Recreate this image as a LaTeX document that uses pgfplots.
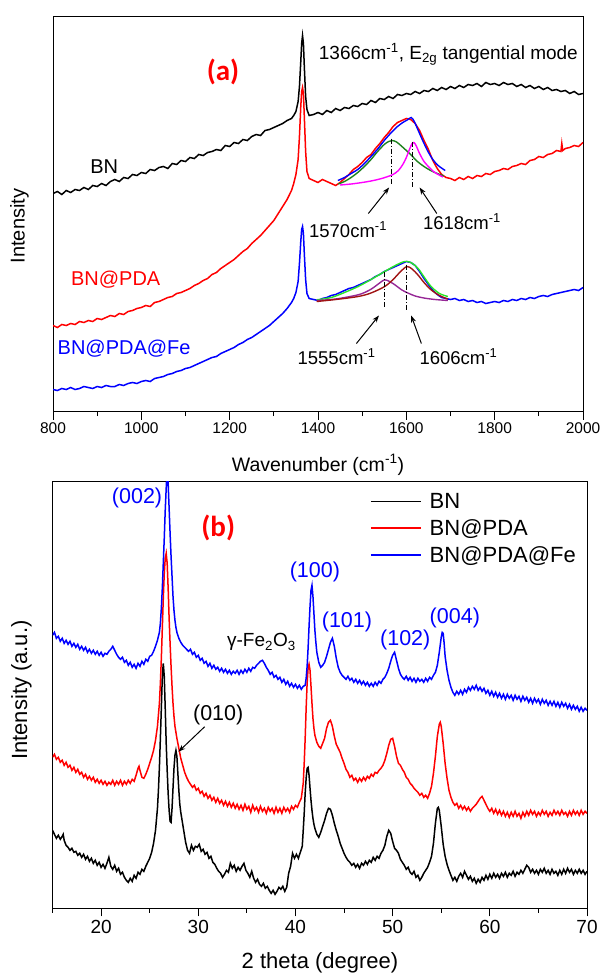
\documentclass[border=0pt]{standalone}
\usepackage{pgfplots}
\pgfplotsset{compat=1.18}
\usepackage{fontspec}
\setmainfont{Liberation Sans}
\newfontfamily\calib{Carlito}
\usetikzlibrary{arrows.meta}
\definecolor{fgreen}{RGB}{30,130,30}
\definecolor{fmag}{RGB}{255,0,255}
\definecolor{flime}{RGB}{40,230,40}
\definecolor{fpurple}{RGB}{150,40,150}
\definecolor{fdred}{RGB}{160,20,20}
\definecolor{pblue}{RGB}{0,0,255}
\definecolor{pred}{RGB}{255,0,0}
\tikzset{dd/.style={black, line width=1pt, dash pattern=on 5pt off 2pt on 1.2pt off 2pt}}
\begin{document}
\begin{tikzpicture}[x=1pt,y=1pt]
\path[use as bounding box] (0,0) rectangle (602,-974);
% ---------------- panel (a) ----------------
\begin{axis}[at={(53pt,-411.5pt)}, anchor=south west, scale only axis,
  width=530pt, height=395pt, xmin=800, xmax=2000, ymin=0, ymax=395,
  xtick={800,1000,...,2000}, minor xtick={900,1100,...,1900},
  ytick=\empty, xtick pos=bottom, tick align=outside,
  major tick length=8pt, minor tick length=4.5pt,
  every tick/.style={black, line width=0.9pt},
  axis line style={line width=0.9pt},
  /pgf/number format/assume math mode=true,
  /pgf/number format/1000 sep={},
  tick label style={font=\fontsize{15.5}{19}\selectfont},
  clip=true]
\addplot[black, line width=1.5pt] table {
x y
800 218
810 220
820 217
830 221
840 219
850 222
860 221
870 224
880 222
890 226
900 225
910 228
920 226
930 230
940 232
950 230
960 234
970 233
980 237
990 236
1000 239
1010 238
1020 242
1030 241
1040 244
1050 245
1060 243
1070 248
1080 247
1090 251
1100 250
1110 254
1120 253
1130 257
1140 256
1150 259
1160 260
1170 262
1180 261
1190 266
1200 265
1210 269
1220 268
1230 272
1240 271
1250 275
1260 277
1270 276
1280 281
1290 282
1300 284
1310 286
1320 288
1330 291
1340 293
1345 296
1350 300
1355 310
1358 325
1361 350
1363 368
1365 376
1367 368
1369 345
1372 315
1375 302
1380 296
1390 297
1400 299
1410 297
1420 301
1430 299
1440 303
1450 301
1460 304
1470 303
1480 306
1490 305
1500 308
1510 307
1520 311
1530 309
1540 313
1550 312
1560 315
1570 313
1580 317
1590 316
1600 318
1610 317
1620 320
1630 318
1640 321
1650 320
1660 323
1670 321
1680 324
1690 322
1700 325
1710 323
1720 326
1730 324
1740 327
1750 326
1760 328
1770 325
1780 329
1790 327
1800 328
1810 326
1820 329
1830 327
1840 328
1850 325
1860 327
1870 324
1880 326
1890 323
1900 325
1910 322
1920 324
1930 321
1940 322
1950 320
1960 321
1970 318
1980 320
1990 317
2000 318
};
\addplot[pred, line width=1.5pt] table {
x y
800 86
810 84
820 87
830 86
840 88
850 87
860 90
870 89
880 91
890 90
900 93
910 92
920 94
930 96
940 95
950 98
960 97
970 100
980 101
990 103
1000 104
1010 106
1020 105
1030 109
1040 110
1050 112
1060 114
1070 115
1080 118
1090 119
1100 121
1110 123
1120 126
1130 128
1140 131
1150 133
1160 137
1170 139
1180 143
1190 146
1200 149
1210 152
1220 156
1230 160
1240 163
1250 168
1260 172
1270 176
1280 181
1290 186
1300 191
1310 198
1320 205
1330 212
1340 221
1345 228
1350 237
1355 252
1358 275
1361 305
1363 320
1365 324
1367 318
1369 295
1372 260
1375 240
1380 233
1390 231
1400 229
1410 232
1420 230
1430 228
1440 226
1450 229
1460 233
1470 237
1480 242
1490 245
1500 249
1510 254
1520 257
1530 263
1540 268
1550 274
1560 279
1570 285
1580 289
1590 291
1600 293
1610 292
1615 290
1620 288
1630 281
1640 271
1650 262
1660 251
1670 243
1680 237
1690 234
1700 233
1710 231
1720 234
1730 232
1740 235
1750 233
1760 236
1770 235
1780 238
1790 237
1800 240
1810 241
1820 243
1830 242
1840 245
1850 246
1860 248
1870 247
1880 251
1890 252
1900 255
1910 254
1920 257
1930 258
1940 261
1950 260
1952 268
1954 261
1960 263
1970 264
1980 266
1990 265
2000 269
};
\addplot[pblue, line width=1.5pt] table {
x y
800 22
810 21
820 23
830 22
840 24
850 22
860 23
870 25
880 24
890 23
900 25
910 24
920 26
930 25
940 25
950 27
960 26
970 28
980 29
990 28
1000 30
1010 31
1020 30
1030 33
1040 34
1050 35
1060 37
1070 38
1080 40
1090 41
1100 43
1110 44
1120 46
1130 48
1140 50
1150 52
1160 54
1170 55
1180 58
1190 60
1200 62
1210 64
1220 67
1230 69
1240 72
1250 74
1260 77
1270 80
1280 83
1290 86
1300 90
1310 94
1320 98
1330 103
1340 109
1345 113
1350 119
1355 130
1358 148
1361 170
1363 182
1365 185
1367 178
1369 158
1372 132
1375 118
1380 113
1390 112
1400 111
1410 113
1420 114
1430 116
1440 117
1450 119
1460 121
1470 123
1480 124
1490 126
1500 128
1510 130
1520 132
1530 135
1540 137
1550 140
1560 142
1570 144
1580 146
1590 148
1600 150
1610 149
1620 146
1630 140
1640 133
1650 127
1660 121
1670 117
1680 114
1690 113
1700 112
1710 113
1720 111
1730 112
1740 110
1750 111
1760 109
1770 110
1780 108
1790 109
1800 110
1810 109
1820 111
1830 110
1840 112
1850 111
1860 113
1870 112
1880 114
1890 113
1900 115
1910 116
1920 115
1930 117
1940 118
1950 119
1960 120
1970 121
1980 122
1990 121
2000 124
};
% fits upper
\addplot[fgreen, line width=1.4pt, smooth] table {
x y
1446 227.5
1460 230
1475 234
1490 239
1505 245
1520 252
1535 260
1550 267
1560 270
1568 271
1578 269.5
1590 265
1600 261
1612 256
1625 250
1640 245
1655 241
1670 238
1685 235.5
};
\addplot[fmag, line width=1.4pt, smooth] table {
x y
1450 226.5
1475 227.5
1500 229
1520 230.5
1540 232.5
1555 234.5
1570 237
1582 241
1592 247
1600 254
1607 262
1613 268
1617 269
1622 266
1630 258
1640 250
1650 245
1660 240.5
1670 237.5
1683 234.5
};
\addplot[pblue, line width=1.4pt, smooth] table {
x y
1445 231
1460 234
1475 238
1490 242
1505 248
1520 255
1536 263
1550 271
1566 279
1580 285
1592 289
1602 291.5
1611 294
1618 290
1626 282
1637 271
1649 260
1660 252
1672 246
1688 241
};
% fits lower
\addplot[flime, line width=1.4pt, smooth] table {
x y
1397 111.7
1430 114
1460 119
1491 125
1520 132
1551 140
1575 146
1596 150
1610 149
1626 143.4
1641 134
1656 125
1675 118
1694 115
};
\addplot[fpurple, line width=1.4pt, smooth] table {
x y
1397 111
1440 112.5
1491 116.7
1515 121
1529 125
1541 129
1551 131.7
1562 130
1574 126.7
1590 121.5
1604 118.4
1620 115.5
1641 113.4
1665 112
1694 111
};
\addplot[fdred, line width=1.4pt, smooth] table {
x y
1397 110
1440 112
1491 115
1520 118.5
1551 125
1570 132
1586 139.5
1601 145
1613 142.5
1626 136.7
1641 128.5
1656 121.7
1675 116
1694 112.4
};
% dash-dot markers
\addplot[dd] coordinates {(1566,273) (1566,226)};
\addplot[dd] coordinates {(1615,270) (1615,224)};
\addplot[dd] coordinates {(1551,140) (1551,103)};
\addplot[dd] coordinates {(1601,147) (1601,101)};
\draw[-{Stealth[length=7pt,width=5pt]}, line width=1pt] (axis cs:1514,198) -- (axis cs:1561,224);
\draw[-{Stealth[length=7pt,width=5pt]}, line width=1pt] (axis cs:1669,198) -- (axis cs:1630,224);
\draw[-{Stealth[length=7pt,width=5pt]}, line width=1pt] (axis cs:1487,68) -- (axis cs:1538,96);
\draw[-{Stealth[length=7pt,width=5pt]}, line width=1pt] (axis cs:1634,68) -- (axis cs:1611,96);
% texts
\node[anchor=west, font=\fontsize{19}{22}\selectfont] at (axis cs:1394,357) {1366cm\textsuperscript{-1}, E\textsubscript{2g} tangential mode};
\node[font=\fontsize{18.5}{22}\selectfont] at (axis cs:1468,182) {1570cm\textsuperscript{-1}};
\node[font=\fontsize{18.5}{22}\selectfont] at (axis cs:1726,190) {1618cm\textsuperscript{-1}};
\node[font=\fontsize{18.5}{22}\selectfont] at (axis cs:1442,55) {1555cm\textsuperscript{-1}};
\node[font=\fontsize{18.5}{22}\selectfont] at (axis cs:1718,55) {1606cm\textsuperscript{-1}};
\node[font=\fontsize{20}{24}\selectfont] at (axis cs:916,245) {BN};
\node[font=\fontsize{20}{24}\selectfont, text=pred] at (axis cs:942,132) {BN@PDA};
\node[font=\fontsize{20}{24}\selectfont, text=pblue] at (axis cs:961,63) {BN@PDA@Fe};
\node[font=\calib\bfseries\fontsize{29}{34}\selectfont, text=pred] at (axis cs:1185,340) {(a)};
\end{axis}
\node[rotate=90, font=\fontsize{20}{24}\selectfont] at (19.5,-226) {Intensity};
\node[font=\fontsize{19.5}{23}\selectfont] at (318,-465) {Wavenumber (cm\textsuperscript{-1})};
% ---------------- panel (b) ----------------
\begin{axis}[at={(52.5pt,-908.3pt)}, anchor=south west, scale only axis,
  width=534.5pt, height=427.3pt, xmin=15, xmax=70, ymin=0, ymax=427.3,
  xtick={20,30,...,70}, minor xtick={15,25,...,65},
  ytick=\empty, xtick pos=bottom, tick align=outside,
  major tick length=8pt, minor tick length=4.5pt,
  every tick/.style={black, line width=0.9pt},
  axis line style={line width=0.9pt},
  /pgf/number format/assume math mode=true,
  tick label style={font=\fontsize{19}{22}\selectfont},
  legend style={at={(0.594,0.977)}, anchor=north west, draw=none, fill=none,
    font=\fontsize{22}{26.6}\selectfont, inner sep=0pt, row sep=5.5pt},
  legend cell align=left,
  legend image code/.code={\draw[#1, line width=1.6pt] (0pt,0pt) -- (50pt,0pt); \path (56pt,0pt);},
  clip=true]
\addplot[black, line width=1.5pt] table {
x y
15.0 78
15.2 74
15.4 70
15.6 73
15.8 69
16.0 72
16.1 74
16.2 68
16.4 63
16.6 61
16.8 58
17.0 60
17.2 56
17.4 57
17.6 53
17.8 55
18.0 51
18.2 54
18.4 49
18.6 52
18.8 47
19.0 50
19.2 45
19.4 48
19.6 43
19.8 46
20.0 41
20.2 44
20.4 40
20.6 45
20.8 51
21.0 42
21.2 39
21.4 43
21.6 37
21.8 40
22.0 34
22.2 36
22.4 31
22.6 28
22.8 26
23.0 30
23.2 27
23.4 33
23.6 30
23.8 36
24.0 34
24.2 39
24.4 37
24.6 42
24.8 46
25.0 50
25.2 56
25.4 65
25.6 78
25.8 100
25.9 118
26.0 141
26.1 170
26.2 200
26.3 232
26.4 245
26.5 232
26.6 200
26.7 165
26.8 138
26.9 115
27.0 98
27.1 87
27.2 86
27.3 100
27.4 120
27.5 140
27.6 153
27.7 158
27.8 152
27.9 135
28.0 118
28.1 104
28.2 96
28.3 90
28.5 78
28.7 66
28.9 58
29.1 55
29.3 63
29.5 58
29.7 62
29.9 61
30.1 64
30.3 57
30.5 59
30.7 54
30.9 56
31.1 50
31.3 52
31.5 46
31.7 44
31.9 40
32.1 37
32.3 35
32.5 31
32.7 34
32.9 38
33.1 36
33.3 45
33.5 40
33.7 43
33.9 37
34.1 41
34.3 38
34.5 42
34.7 45
34.9 38
35.1 35
35.3 31
35.5 37
35.7 30
35.9 26
36.1 29
36.3 24
36.5 22
36.7 25
36.9 20
37.1 22
37.3 18
37.5 15
37.7 18
37.9 14
38.1 17
38.3 21
38.5 19
38.7 22
38.9 17
39.1 21
39.3 35
39.5 42
39.7 55
39.9 50
40.1 54
40.3 50
40.5 56
40.7 62
40.8 78
40.9 95
41.0 115
41.1 130
41.2 140
41.3 141
41.4 133
41.5 120
41.6 108
41.7 98
41.8 90
41.9 84
42.0 80
42.2 74
42.4 71
42.6 76
42.8 82
43.0 88
43.2 95
43.4 100
43.6 99
43.8 93
44.0 85
44.2 78
44.4 72
44.6 65
44.8 60
45.0 55
45.2 51
45.4 48
45.6 46
45.8 43
46.0 45
46.2 41
46.4 44
46.6 40
46.8 45
47.0 43
47.2 47
47.4 44
47.6 48
47.8 46
48.0 51
48.2 48
48.4 52
48.6 50
48.8 55
49.0 58
49.2 63
49.4 72
49.6 78
49.8 75
50.0 67
50.2 60
50.4 58
50.6 55
50.8 49
51.0 46
51.2 43
51.4 39
51.6 41
51.8 36
52.0 34
52.2 37
52.4 31
52.6 33
52.8 28
53.0 31
53.2 35
53.4 38
53.6 41
53.8 46
54.0 52
54.2 65
54.4 85
54.6 100
54.7 101
54.8 98
55.0 82
55.2 64
55.4 52
55.6 44
55.8 38
56.0 33
56.2 28
56.4 31
56.6 27
56.8 32
57.0 35
57.2 31
57.4 37
57.6 33
57.8 29
58.0 32
58.2 27
58.4 30
58.6 25
58.8 29
59.0 26
59.2 31
59.4 28
59.6 33
59.8 29
60.0 34
60.2 30
60.4 35
60.6 31
60.8 34
61.0 30
61.2 35
61.4 32
61.6 36
61.8 31
62.0 35
62.2 33
62.4 37
62.6 32
62.8 36
63.0 34
63.2 38
63.4 35
63.6 39
63.8 43
64.0 41
64.2 36
64.4 39
64.6 35
64.8 38
65.0 34
65.2 39
65.4 36
65.6 40
65.8 35
66.0 38
66.2 34
66.4 39
66.6 35
66.8 37
67.0 33
67.2 38
67.4 34
67.6 39
67.8 35
68.0 40
68.2 36
68.4 39
68.6 34
68.8 38
69.0 35
69.2 39
69.4 35
69.6 38
69.8 34
70.0 37
};
\addlegendentry{BN}
\addplot[pred, line width=1.5pt] table {
x y
15.0 151
15.2 154
15.4 149
15.6 151
15.8 146
16.0 148
16.2 143
16.4 146
16.6 141
16.8 143
17.0 138
17.2 141
17.4 136
17.6 139
17.8 134
18.0 136
18.2 131
18.4 134
18.6 129
18.8 132
19.0 128
19.2 131
19.4 126
19.6 129
19.8 125
20.0 128
20.2 124
20.4 127
20.6 123
20.8 126
21.0 124
21.2 128
21.4 123
21.6 127
21.8 124
22.0 128
22.2 123
22.4 127
22.6 124
22.8 128
23.0 125
23.2 129
23.4 127
23.6 133
23.8 140
23.9 142
24.0 138
24.2 131
24.4 130
24.6 134
24.8 139
25.0 145
25.2 151
25.4 158
25.6 168
25.8 182
26.0 205
26.1 225
26.2 250
26.3 280
26.4 310
26.5 335
26.6 350
26.7 355
26.8 345
26.9 320
27.0 290
27.1 265
27.2 242
27.3 222
27.4 205
27.5 192
27.6 182
27.7 176
27.8 170
28.0 160
28.2 150
28.4 143
28.6 136
28.8 131
29.0 127
29.2 124
29.4 121
29.6 123
29.8 118
30.0 120
30.2 115
30.4 117
30.6 112
30.8 115
31.0 110
31.2 113
31.4 108
31.6 111
31.8 106
32.0 110
32.2 105
32.4 108
32.6 103
32.8 107
33.0 102
33.2 106
33.4 101
33.6 105
33.8 100
34.0 104
34.2 99
34.4 103
34.6 98
34.8 104
35.0 99
35.2 102
35.4 96
35.6 103
35.8 98
36.0 101
36.2 96
36.4 102
36.6 97
36.8 100
37.0 95
37.2 101
37.4 97
37.6 100
37.8 95
38.0 101
38.2 96
38.4 100
38.6 95
38.8 101
39.0 97
39.2 100
39.4 96
39.6 102
39.8 99
40.0 103
40.2 101
40.4 106
40.6 110
40.8 125
40.9 145
41.0 170
41.1 200
41.2 225
41.3 240
41.4 244
41.5 238
41.6 222
41.7 205
41.8 190
41.9 180
42.0 173
42.2 166
42.4 162
42.6 160
42.8 165
43.0 170
43.2 180
43.4 186
43.6 188
43.8 182
44.0 172
44.2 164
44.4 160
44.6 156
44.8 150
45.0 145
45.2 139
45.4 136
45.6 131
45.8 133
46.0 128
46.2 130
46.4 126
46.6 130
46.8 127
47.0 131
47.2 128
47.4 132
47.6 130
47.8 134
48.0 132
48.2 136
48.4 135
48.6 138
48.8 140
49.0 143
49.2 148
49.4 155
49.6 163
49.8 169
50.0 170
50.2 162
50.4 152
50.6 145
50.8 143
51.0 139
51.2 136
51.4 131
51.6 129
51.8 125
52.0 123
52.2 120
52.4 118
52.6 116
52.8 113
53.0 115
53.2 111
53.4 113
53.6 110
53.8 115
54.0 122
54.2 135
54.4 152
54.6 172
54.8 184
54.9 186
55.0 182
55.2 165
55.4 145
55.6 130
55.8 118
56.0 111
56.2 106
56.4 103
56.6 105
56.8 100
57.0 103
57.2 99
57.4 102
57.6 98
57.8 101
58.0 97
58.2 100
58.4 102
58.6 104
58.8 107
59.0 110
59.2 112
59.4 108
59.6 104
59.8 100
60.0 97
60.2 100
60.4 95
60.6 99
60.8 94
61.0 98
61.2 93
61.4 97
61.6 92
61.8 96
62.0 91
62.2 96
62.4 92
62.6 97
62.8 92
63.0 95
63.2 90
63.4 96
63.6 92
63.8 97
64.0 93
64.2 98
64.4 94
64.6 97
64.8 92
65.0 96
65.2 93
65.4 98
65.6 94
65.8 97
66.0 92
66.2 96
66.4 93
66.6 98
66.8 94
67.0 97
67.2 93
67.4 98
67.6 94
67.8 96
68.0 92
68.2 97
68.4 93
68.6 98
68.8 94
69.0 97
69.2 93
69.4 98
69.6 94
69.8 97
70.0 95
};
\addlegendentry{BN@PDA}
\addplot[pblue, line width=1.5pt] table {
x y
15.0 273
15.2 276
15.4 270
15.6 272
15.8 267
16.0 270
16.2 265
16.4 268
16.6 264
16.8 267
17.0 262
17.2 265
17.4 261
17.6 264
17.8 259
18.0 262
18.2 258
18.4 261
18.6 256
18.8 259
19.0 255
19.2 258
19.4 254
19.6 257
19.8 253
20.0 256
20.2 252
20.4 255
20.6 254
20.8 257
21.0 259
21.2 262
21.4 258
21.6 254
21.8 251
22.0 249
22.2 251
22.4 246
22.6 248
22.8 243
23.0 246
23.2 241
23.4 244
23.6 240
23.8 245
24.0 242
24.2 247
24.4 244
24.6 249
24.8 247
25.0 252
25.2 253
25.4 257
25.6 262
25.8 268
26.0 276
26.1 285
26.2 300
26.3 320
26.4 345
26.5 370
26.6 398
26.7 420
26.8 440
26.9 425
27.0 400
27.1 375
27.2 352
27.3 332
27.4 312
27.5 298
27.6 288
27.7 281
27.8 276
28.0 270
28.2 266
28.4 263
28.6 261
28.8 259
29.0 257
29.2 259
29.4 254
29.6 256
29.8 251
30.0 253
30.2 248
30.4 250
30.6 245
30.8 247
31.0 242
31.2 245
31.4 240
31.6 243
31.8 239
32.0 241
32.2 237
32.4 240
32.6 236
32.8 239
33.0 235
33.2 238
33.4 234
33.6 237
33.8 235
34.0 238
34.2 234
34.4 238
34.6 235
34.8 239
35.0 236
35.2 240
35.4 237
35.6 241
35.8 240
36.0 243
36.2 245
36.4 247
36.6 248
36.8 245
37.0 241
37.2 238
37.4 234
37.6 236
37.8 231
38.0 233
38.2 229
38.4 231
38.6 226
38.8 229
39.0 224
39.2 227
39.4 222
39.6 225
39.8 221
40.0 224
40.2 220
40.4 223
40.6 219
40.8 222
41.0 223
41.1 230
41.2 242
41.3 260
41.4 282
41.5 302
41.6 318
41.7 323
41.8 312
41.9 295
42.0 278
42.1 266
42.2 256
42.4 246
42.6 241
42.8 243
43.0 246
43.2 252
43.4 259
43.6 266
43.8 270
44.0 262
44.2 250
44.4 241
44.6 236
44.8 233
45.0 231
45.2 229
45.4 232
45.6 228
45.8 230
46.0 226
46.2 229
46.4 225
46.6 228
46.8 224
47.0 227
47.2 223
47.4 226
47.6 222
47.8 225
48.0 222
48.2 226
48.4 223
48.6 227
48.8 225
49.0 229
49.2 231
49.4 235
49.6 240
49.8 247
50.0 253
50.2 256
50.4 248
50.6 240
50.8 234
51.0 231
51.2 229
51.4 232
51.6 228
51.8 231
52.0 227
52.2 230
52.4 226
52.6 230
52.8 227
53.0 229
53.2 226
53.4 230
53.6 227
53.8 231
54.0 229
54.2 233
54.4 236
54.6 243
54.8 256
55.0 271
55.1 276
55.2 275
55.3 265
55.4 252
55.6 238
55.8 228
56.0 221
56.2 216
56.4 213
56.6 217
56.8 214
57.0 218
57.2 214
57.4 219
57.6 216
57.8 221
58.0 218
58.2 222
58.4 219
58.6 223
58.8 218
59.0 221
59.2 217
59.4 220
59.6 215
59.8 218
60.0 213
60.2 217
60.4 212
60.6 216
60.8 211
61.0 215
61.2 210
61.4 214
61.6 209
61.8 214
62.0 210
62.2 213
62.4 208
62.6 213
62.8 209
63.0 212
63.2 207
63.4 212
63.6 208
63.8 211
64.0 206
64.2 210
64.4 205
64.6 210
64.8 206
65.0 209
65.2 204
65.4 209
65.6 205
65.8 208
66.0 203
66.2 207
66.4 203
66.6 207
66.8 202
67.0 206
67.2 201
67.4 206
67.6 202
67.8 205
68.0 200
68.2 204
68.4 199
68.6 203
68.8 199
69.0 202
69.2 197
69.4 201
69.6 197
69.8 200
70.0 198
};
\addlegendentry{BN@PDA@Fe}
\draw[-{Stealth[length=7pt,width=5pt]}, line width=1pt] (axis cs:30.66,181.6) -- (axis cs:27.96,156.6);
\node[font=\fontsize{21.5}{25}\selectfont, text=pblue] at (axis cs:23.7,410) {(002)};
\node[font=\fontsize{21.5}{25}\selectfont, text=pblue] at (axis cs:42.0,336) {(100)};
\node[font=\fontsize{21.5}{25}\selectfont, text=pblue] at (axis cs:45.3,286) {(101)};
\node[font=\fontsize{21.5}{25}\selectfont, text=pblue] at (axis cs:51.3,268) {(102)};
\node[font=\fontsize{21.5}{25}\selectfont, text=pblue] at (axis cs:56.4,290) {(004)};
\node[font=\fontsize{19}{22}\selectfont] at (axis cs:36.5,266) {γ-Fe\textsubscript{2}O\textsubscript{3}};
\node[font=\fontsize{21.5}{25}\selectfont] at (axis cs:32.05,193) {(010)};
\node[font=\calib\bfseries\fontsize{29}{34}\selectfont, text=pred] at (axis cs:32.05,380) {(b)};
\end{axis}
\node[rotate=90, font=\fontsize{22}{26}\selectfont] at (21.5,-690) {Intensity (a.u.)};
\node[font=\fontsize{22}{26}\selectfont] at (320,-963) {2 theta (degree)};
\end{tikzpicture}
\end{document}
